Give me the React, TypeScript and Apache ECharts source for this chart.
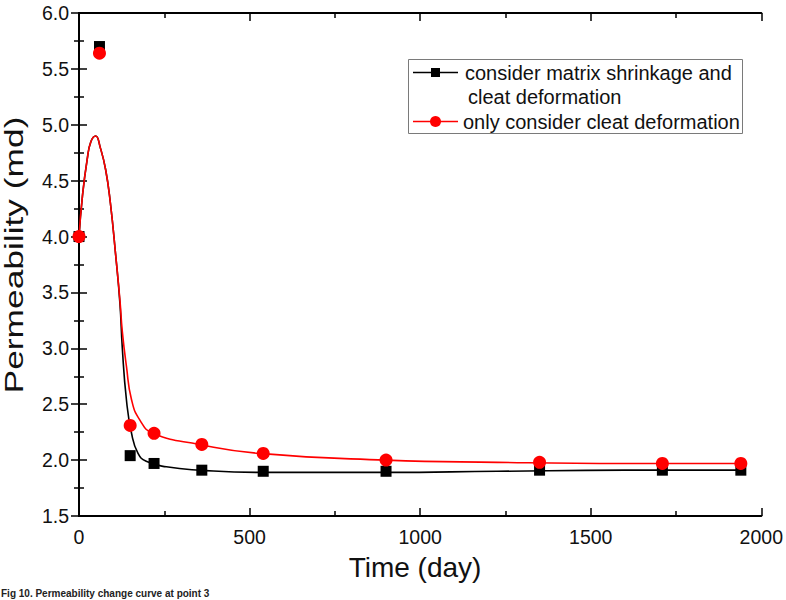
import React, { useEffect, useRef } from "react";
import * as echarts from "echarts";

// Measured permeability at the monitoring point (markers)
const days = [0, 60, 150, 220, 360, 540, 900, 1350, 1710, 1940];
const shrinkageMeasured = [4.0, 5.7, 2.04, 1.97, 1.91, 1.9, 1.9, 1.91, 1.91, 1.91];
const cleatMeasured = [4.0, 5.64, 2.31, 2.24, 2.14, 2.06, 2.0, 1.98, 1.97, 1.97];

// Fitted curves
const shrinkageFitDays = [0, 10, 24, 35, 49, 62, 78, 92, 107, 120, 127, 139, 154, 173, 197, 256, 353, 528, 900, 1227, 1600, 1940];
const shrinkageFit = [4.0, 4.36, 4.69, 4.85, 4.9, 4.8, 4.6, 4.3, 3.85, 3.4, 3.0, 2.54, 2.24, 2.06, 1.99, 1.94, 1.91, 1.89, 1.89, 1.9, 1.91, 1.91];
const cleatFitDays = [0, 10, 24, 35, 49, 62, 78, 92, 107, 120, 127, 139, 154, 178, 217, 353, 528, 900, 1227, 1600, 1940];
const cleatFit = [4.0, 4.36, 4.69, 4.85, 4.9, 4.8, 4.6, 4.3, 3.85, 3.43, 3.15, 2.84, 2.54, 2.36, 2.24, 2.14, 2.06, 2.0, 1.98, 1.97, 1.97];

const seriesNames = ["consider matrix shrinkage and", "only consider cleat deformation"];
const seriesNameSecondLine = "cleat deformation";
const xTitle = "Time (day)";
const yTitle = "Permeability (md)";
const caption = "Fig 10. Permeability change curve at point 3";

const FONT = "'Liberation Sans', Arial, Helvetica, sans-serif";
const BLACK = "#000000";
const RED = "#ff0000";

const zip = (xs: number[], ys: number[]) => xs.map((x, i) => [x, ys[i]]);

export default function App() {
  const ref = useRef<HTMLDivElement>(null);

  useEffect(() => {
    if (!ref.current) return;
    const chart = echarts.init(ref.current, null, { renderer: "svg" });

    // Major and minor ticks point into the plot on all four sides
    const axisCommon = {
      axisLine: { show: true, lineStyle: { color: BLACK, width: 2 } },
      axisTick: { show: true, inside: true, length: 8, lineStyle: { color: BLACK, width: 1.5 } },
      minorTick: { show: true, splitNumber: 2, length: 5, lineStyle: { color: BLACK, width: 1.5 } },
      splitLine: { show: false },
    };

    const legendTextStyle = { fontFamily: FONT, fontSize: 20, fill: "#111", textVerticalAlign: "middle" };

    chart.setOption({
      animation: false,
      backgroundColor: "#ffffff",
      grid: { left: 79, right: 21, top: 13, bottom: 84, containLabel: false },
      xAxis: [
        {
          type: "value",
          min: 0,
          max: 2000,
          interval: 500,
          position: "bottom",
          ...axisCommon,
          axisLabel: {
            color: "#111",
            fontSize: 19.5,
            fontFamily: FONT,
            margin: 11,
            formatter: (v: number) => String(v),
          },
        },
        {
          type: "value",
          min: 0,
          max: 2000,
          interval: 500,
          position: "top",
          ...axisCommon,
          axisLabel: { show: false },
        },
      ],
      yAxis: [
        {
          type: "value",
          min: 1.5,
          max: 6.0,
          interval: 0.5,
          position: "left",
          ...axisCommon,
          axisLabel: {
            color: "#111",
            fontSize: 19.5,
            fontFamily: FONT,
            margin: 10,
            formatter: (v: number) => v.toFixed(1),
          },
        },
        {
          type: "value",
          min: 1.5,
          max: 6.0,
          interval: 0.5,
          position: "right",
          ...axisCommon,
          axisLabel: { show: false },
        },
      ],
      series: [
        {
          name: seriesNames[0] + " fit",
          type: "line",
          data: zip(shrinkageFitDays, shrinkageFit),
          smooth: 0.5,
          showSymbol: false,
          symbol: "none",
          lineStyle: { color: BLACK, width: 1.6 },
          z: 2,
        },
        {
          name: seriesNames[1] + " fit",
          type: "line",
          data: zip(cleatFitDays, cleatFit),
          smooth: 0.5,
          showSymbol: false,
          symbol: "none",
          lineStyle: { color: RED, width: 1.6 },
          z: 3,
        },
        {
          name: seriesNames[0],
          type: "scatter",
          data: zip(days, shrinkageMeasured),
          symbol: "rect",
          symbolSize: 11,
          itemStyle: { color: BLACK, opacity: 1 },
          z: 4,
        },
        {
          name: seriesNames[1],
          type: "scatter",
          data: zip(days, cleatMeasured),
          symbol: "circle",
          symbolSize: 13,
          itemStyle: { color: RED, opacity: 1 },
          z: 5,
        },
      ],
      graphic: [
        // Legend box
        {
          type: "rect",
          shape: { x: 408.5, y: 59.5, width: 334, height: 74 },
          style: { fill: "#ffffff", stroke: "#7a7a7a", lineWidth: 1 },
          z: 10,
        },
        {
          type: "line",
          shape: { x1: 413, y1: 72.5, x2: 458, y2: 72.5 },
          style: { stroke: BLACK, lineWidth: 1.6 },
          z: 11,
        },
        {
          type: "rect",
          shape: { x: 431, y: 68, width: 9, height: 9 },
          style: { fill: BLACK },
          z: 12,
        },
        {
          type: "text",
          x: 465,
          y: 73,
          style: { ...legendTextStyle, text: seriesNames[0] },
          z: 12,
        },
        {
          type: "text",
          x: 468,
          y: 97,
          style: { ...legendTextStyle, text: seriesNameSecondLine },
          z: 12,
        },
        {
          type: "line",
          shape: { x1: 413, y1: 121.5, x2: 458, y2: 121.5 },
          style: { stroke: RED, lineWidth: 1.6 },
          z: 11,
        },
        {
          type: "circle",
          shape: { cx: 435.5, cy: 121.5, r: 5.5 },
          style: { fill: RED },
          z: 12,
        },
        {
          type: "text",
          x: 463,
          y: 122,
          style: { ...legendTextStyle, text: seriesNames[1] },
          z: 12,
        },
        // Axis titles
        {
          type: "text",
          x: 415,
          y: 567,
          style: {
            text: xTitle,
            fontFamily: FONT,
            fontSize: 28,
            fill: "#111",
            textAlign: "center",
            textVerticalAlign: "middle",
          },
        },
        {
          type: "text",
          x: 14,
          y: 255,
          rotation: Math.PI / 2,
          scaleX: 1.36,
          style: {
            text: yTitle,
            fontFamily: FONT,
            fontSize: 26,
            fill: "#111",
            textAlign: "center",
            textVerticalAlign: "middle",
          },
        },
        // Figure caption
        {
          type: "text",
          x: 1,
          y: 588,
          style: {
            text: caption,
            fontFamily: FONT,
            fontSize: 10,
            fontWeight: "bold",
            fill: "#222",
            textAlign: "left",
            textVerticalAlign: "top",
          },
        },
      ],
    });

    return () => chart.dispose();
  }, []);

  return (
    <div
      ref={ref}
      style={{ position: "absolute", left: 0, top: 0, width: 786, height: 600, background: "#fff" }}
    />
  );
}
